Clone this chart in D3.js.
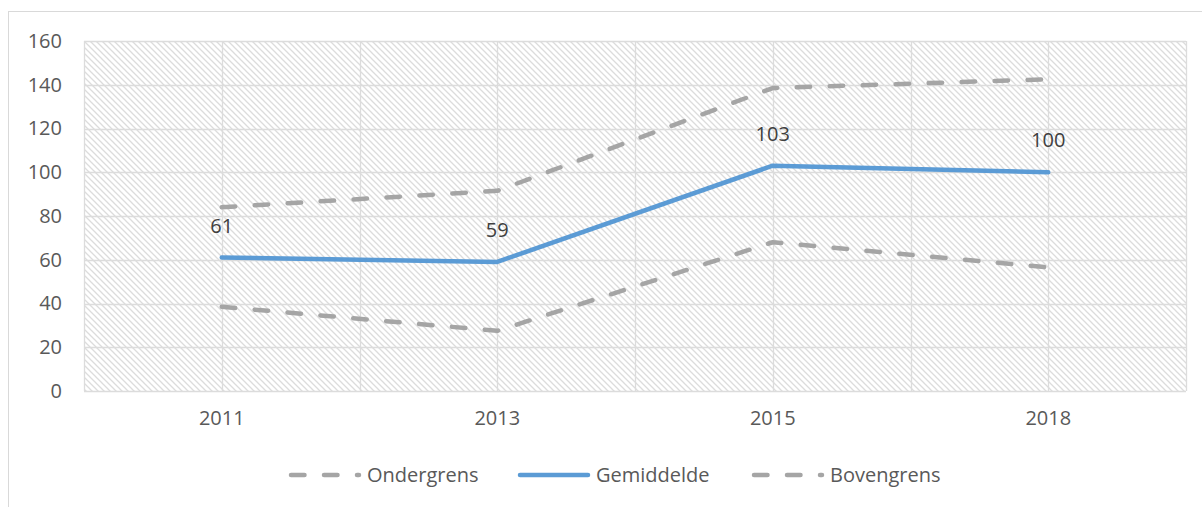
<!DOCTYPE html>
<html>
<head>
<meta charset="utf-8">
<script src="https://cdn.jsdelivr.net/npm/d3@7"></script>
<style>
  body { margin: 0; background: #fff; }
  svg { display: block; font-family: "Open Sans", sans-serif; }
</style>
</head>
<body>
<div class="svg-container"></div>
<script>
// chart data
const years = ['2011', '2013', '2015', '2018'];
const ondergrens = [38.5, 27.5, 68, 56.5];
const gemiddelde = [61, 59, 103, 100];
const bovengrens = [84, 91.5, 138.5, 142.5];
const yTicks = [0, 20, 40, 60, 80, 100, 120, 140, 160];
const seriesNames = ['Ondergrens', 'Gemiddelde', 'Bovengrens'];

const svgWidth = 1202;
const svgHeight = 507;
const margin = { top: 41, right: 16, bottom: 116, left: 84 };
const width = svgWidth - margin.left - margin.right;
const height = svgHeight - margin.top - margin.bottom;

const grey = '#a5a5a5';
const blue = '#5b9bd5';
const textColor = '#595959';
const gridColor = '#dcdcdc';

const svg = d3.select('.svg-container')
  .append('svg')
  .attr('width', svgWidth)
  .attr('height', svgHeight);

// hatch pattern for the plot area
const defs = svg.append('defs');
const pat = defs.append('pattern')
  .attr('id', 'hatch')
  .attr('patternUnits', 'userSpaceOnUse')
  .attr('width', 6)
  .attr('height', 6);
pat.append('rect').attr('width', 6).attr('height', 6).attr('fill', '#fff');
pat.append('path')
  .attr('d', 'M-1,-1 L7,7 M-1,5 L1,7 M5,-1 L7,1')
  .attr('stroke', '#dcdcdc')
  .attr('stroke-width', 1.3);

// outer chart border
svg.append('rect')
  .attr('x', 8.5).attr('y', 11.5)
  .attr('width', svgWidth).attr('height', svgHeight)
  .attr('fill', 'none')
  .attr('stroke', '#d9d9d9');

const group = svg.append('g')
  .attr('transform', `translate(${margin.left}, ${margin.top})`);

const x = d3.scaleBand().domain(years).range([0, width]).padding(0);
const y = d3.scaleLinear().domain([0, 160]).range([height, 0]);
const cx = (d) => x(d) + x.bandwidth() / 2;

group.append('rect')
  .attr('width', width).attr('height', height)
  .attr('fill', 'url(#hatch)');

// vertical gridlines: band edges and centres
const vLines = [];
years.forEach((d) => { vLines.push(x(d)); vLines.push(cx(d)); });
vLines.push(width);
group.append('g').selectAll('line')
  .data(vLines)
  .join('line')
  .attr('x1', (d) => Math.round(d) + 0.5).attr('x2', (d) => Math.round(d) + 0.5)
  .attr('y1', 0).attr('y2', height)
  .attr('stroke', gridColor).attr('stroke-width', 1.3);

// horizontal gridlines
group.append('g').selectAll('line')
  .data(yTicks)
  .join('line')
  .attr('x1', 0).attr('x2', width)
  .attr('y1', (d) => Math.round(y(d)) + 0.5).attr('y2', (d) => Math.round(y(d)) + 0.5)
  .attr('stroke', gridColor).attr('stroke-width', 1.3);

// Y axis labels
const yAxis = group.append('g')
  .call(d3.axisLeft(y).tickValues(yTicks).tickSize(0).tickPadding(22));
yAxis.select('.domain').remove();
yAxis.selectAll('text')
  .attr('fill', textColor)
  .style('font-size', '20px')
  .style('font-family', '"Open Sans", sans-serif');

// X axis labels
const xAxis = group.append('g')
  .attr('transform', `translate(0, ${height})`)
  .call(d3.axisBottom(x).tickSize(0).tickPadding(20));
xAxis.select('.domain').remove();
xAxis.selectAll('text')
  .attr('fill', textColor)
  .style('font-size', '20px')
  .style('font-family', '"Open Sans", sans-serif');

// lines
const line = d3.line()
  .x((d, i) => cx(years[i]))
  .y((d) => y(d));

const dash = '13.5,19.5';
const seriesList = [
  { values: ondergrens, color: grey, dash: dash },
  { values: bovengrens, color: grey, dash: dash },
  { values: gemiddelde, color: blue, dash: null },
];
seriesList.forEach((s) => {
  group.append('path')
    .datum(s.values)
    .attr('fill', 'none')
    .attr('stroke', s.color)
    .attr('stroke-width', 4.5)
    .attr('stroke-linecap', 'round')
    .attr('stroke-linejoin', 'round')
    .attr('stroke-dasharray', s.dash)
    .attr('d', line);
});

// data labels for Gemiddelde
group.append('g').selectAll('text')
  .data(gemiddelde)
  .join('text')
  .attr('x', (d, i) => cx(years[i]))
  .attr('y', (d) => y(d) - 25)
  .attr('text-anchor', 'middle')
  .attr('fill', '#404040')
  .style('font-size', '20px')
  .text((d) => d);

// legend
const legendY = 475;
const legendItems = [
  { name: seriesNames[0], x: 291, color: grey, dash: dash },
  { name: seriesNames[1], x: 520, color: blue, dash: null },
  { name: seriesNames[2], x: 754, color: grey, dash: dash },
];
const legend = svg.append('g');
legendItems.forEach((item) => {
  legend.append('line')
    .attr('x1', item.x).attr('x2', item.x + 68)
    .attr('y1', legendY).attr('y2', legendY)
    .attr('stroke', item.color)
    .attr('stroke-width', 4.5)
    .attr('stroke-linecap', 'round')
    .attr('stroke-dasharray', item.dash);
  legend.append('text')
    .attr('x', item.x + 76)
    .attr('y', legendY)
    .attr('dy', '0.35em')
    .attr('fill', textColor)
    .style('font-size', '20px')
    .text(item.name);
});
</script>
</body>
</html>
